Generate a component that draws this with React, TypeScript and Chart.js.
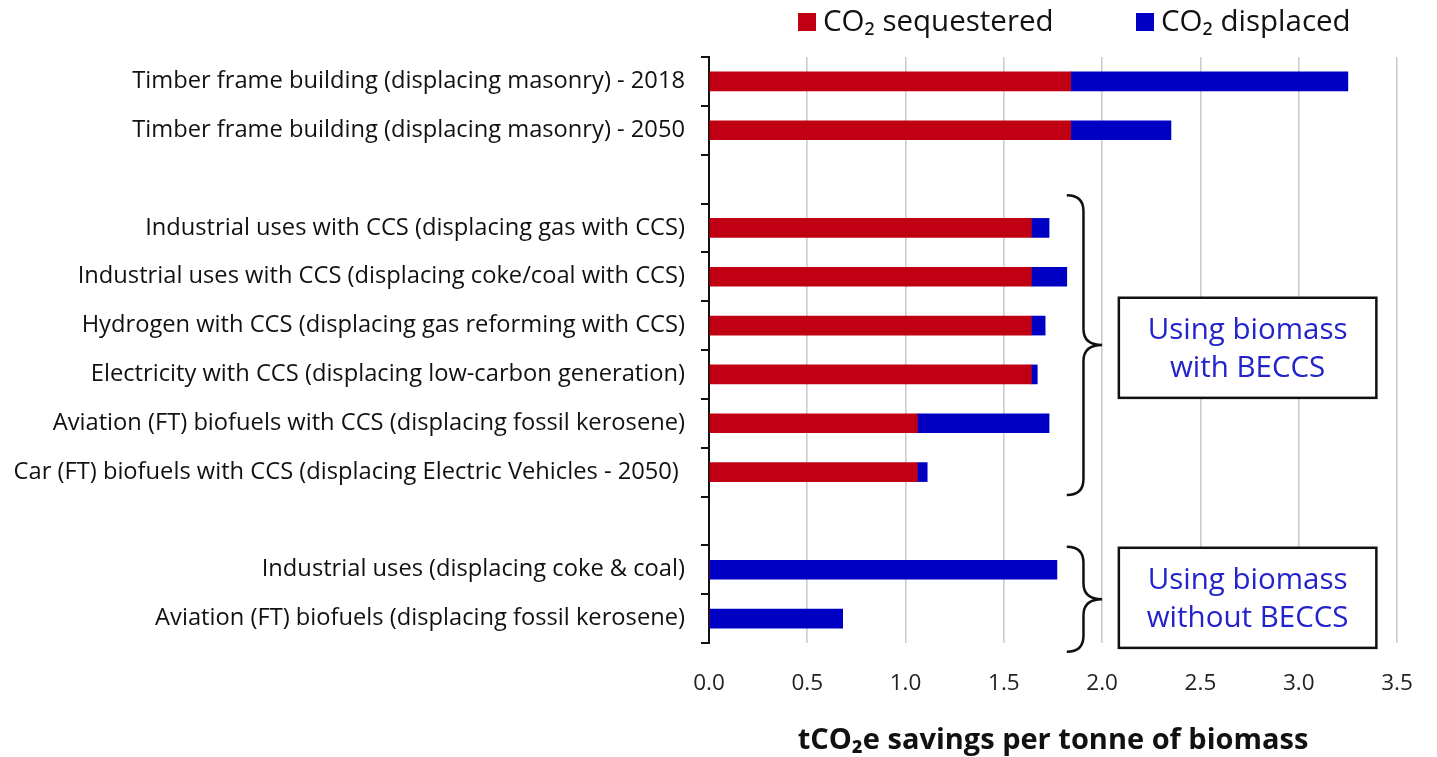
import React, { useEffect, useRef } from "react";
import { Chart, registerables } from "chart.js";

Chart.register(...registerables);

const categories = [
  "Timber frame building (displacing masonry) - 2018",
  "Timber frame building (displacing masonry) - 2050",
  "",
  "Industrial uses with CCS (displacing gas with CCS)",
  "Industrial uses with CCS (displacing coke/coal with CCS)",
  "Hydrogen with CCS (displacing gas reforming with CCS)",
  "Electricity with CCS (displacing low-carbon generation)",
  "Aviation (FT) biofuels with CCS (displacing fossil kerosene)",
  "Car (FT) biofuels with CCS (displacing Electric Vehicles - 2050) ",
  "",
  "Industrial uses (displacing coke & coal)",
  "Aviation (FT) biofuels (displacing fossil kerosene)",
];

const sequestered = [1.84, 1.84, null, 1.64, 1.64, 1.64, 1.64, 1.06, 1.06, null, 0, 0];
const displaced = [1.41, 0.51, null, 0.09, 0.18, 0.07, 0.03, 0.67, 0.05, null, 1.77, 0.68];

const seriesNames = ["CO\u2082 sequestered", "CO\u2082 displaced"];
const xTickLabels = ["0.0", "0.5", "1.0", "1.5", "2.0", "2.5", "3.0", "3.5"];
const axisTitle = "tCO\u2082e savings per tonne of biomass";

// group annotations: brace span and box span in category index units, plus box text
const groups = [
  { from: 2.33, to: 8.47, boxFrom: 4.43, boxTo: 6.48, lines: ["Using biomass", "with BECCS"] },
  { from: 9.53, to: 11.68, boxFrom: 9.55, boxTo: 11.6, lines: ["Using biomass", "without BECCS"] },
];

const RED = "#C00012";
const BLUE = "#0000C4";
const FONT = "'Open Sans'";

const annotationPlugin = {
  id: "groupsAndLegend",
  afterDraw(chart: any) {
    const ctx = chart.ctx;
    const x = chart.scales.x;
    const y = chart.scales.y;
    const ca = chart.chartArea;
    ctx.save();
    // legend
    ctx.font = `29.5px ${FONT}`;
    ctx.textBaseline = "middle";
    ctx.textAlign = "left";
    const legendY = 14;
    const legendX = [ca.left + 89, ca.left + 427];
    chart.data.datasets.forEach((ds: any, i: number) => {
      ctx.fillStyle = ds.backgroundColor;
      ctx.fillRect(legendX[i], legendY - 9, 18, 18);
      ctx.fillStyle = "#111";
      ctx.fillText(ds.label, legendX[i] + 25, legendY + 1);
    });
    // braces and boxes
    groups.forEach((g) => {
      const yTop = y.getPixelForValue(g.from);
      const yBot = y.getPixelForValue(g.to);
      const yMid = (yTop + yBot) / 2;
      const xL = x.getPixelForValue(1.82);
      const xV = x.getPixelForValue(1.905);
      const xT = x.getPixelForValue(2.0);
      const r = 16;
      ctx.strokeStyle = "#111";
      ctx.lineWidth = 2.5;
      ctx.beginPath();
      ctx.moveTo(xL, yTop);
      ctx.quadraticCurveTo(xV, yTop, xV, yTop + r);
      ctx.lineTo(xV, yMid - r);
      ctx.quadraticCurveTo(xV, yMid, xT, yMid);
      ctx.moveTo(xT, yMid);
      ctx.quadraticCurveTo(xV, yMid, xV, yMid + r);
      ctx.lineTo(xV, yBot - r);
      ctx.quadraticCurveTo(xV, yBot, xL, yBot);
      ctx.stroke();

      const bx1 = x.getPixelForValue(2.085);
      const bx2 = x.getPixelForValue(3.395);
      const by1 = y.getPixelForValue(g.boxFrom);
      const by2 = y.getPixelForValue(g.boxTo);
      ctx.fillStyle = "#fff";
      ctx.fillRect(bx1, by1, bx2 - bx1, by2 - by1);
      ctx.lineWidth = 2.5;
      ctx.strokeRect(bx1, by1, bx2 - bx1, by2 - by1);
      ctx.fillStyle = "#2323CC";
      ctx.font = `500 29.5px ${FONT}`;
      ctx.textAlign = "center";
      const cx = (bx1 + bx2) / 2;
      const cy = (by1 + by2) / 2;
      ctx.fillText(g.lines[0], cx, cy - 17);
      ctx.fillText(g.lines[1], cx, cy + 21);
    });
    ctx.restore();
  },
};

export default function App() {
  const ref = useRef<HTMLCanvasElement | null>(null);
  useEffect(() => {
    if (!ref.current) return;
    const chart = new Chart(ref.current, {
      type: "bar",
      data: {
        labels: categories,
        datasets: [
          { label: seriesNames[0], data: sequestered, backgroundColor: RED, barThickness: 19 },
          { label: seriesNames[1], data: displaced, backgroundColor: BLUE, barThickness: 19 },
        ],
      },
      options: {
        indexAxis: "y",
        animation: false,
        responsive: false,
        maintainAspectRatio: false,
        layout: { padding: { top: 49, right: 32, left: 0, bottom: 0 } },
        plugins: {
          legend: { display: false },
          tooltip: { enabled: false },
        },
        scales: {
          x: {
            stacked: true,
            min: 0,
            max: 3.5,
            afterFit: (s: any) => {
              s.height = 114;
            },
            ticks: {
              stepSize: 0.5,
              padding: 6,
              color: "#222",
              font: { family: FONT, size: 22.5 },
              callback: (_v: any, i: number) => xTickLabels[i],
            },
            grid: {
              color: "#cccccc",
              lineWidth: 1.6,
              drawTicks: true,
              tickLength: 21,
              tickColor: "rgba(0,0,0,0)",
            },
            border: { display: false },
            title: {
              display: true,
              text: axisTitle,
              color: "#111",
              font: { family: FONT, size: 29, weight: "bold", lineHeight: 1 },
              padding: { top: 0, bottom: 2 },
            },
          },
          y: {
            stacked: true,
            afterFit: (s: any) => {
              s.width = 701;
            },
            ticks: {
              padding: 16,
              color: "#111",
              autoSkip: false,
              font: { family: FONT, size: 23.7 },
            },
            grid: { drawOnChartArea: false, drawTicks: true, tickLength: 8, color: "#111", lineWidth: 2, offset: true },
            border: { display: true, color: "#111", width: 2 },
          },
        },
      },
      plugins: [annotationPlugin],
    });
    return () => chart.destroy();
  }, []);
  return (
    <div style={{ width: 1421, height: 749 }}>
      <canvas ref={ref} width={1421} height={749} style={{ width: 1421, height: 749 }} />
    </div>
  );
}
